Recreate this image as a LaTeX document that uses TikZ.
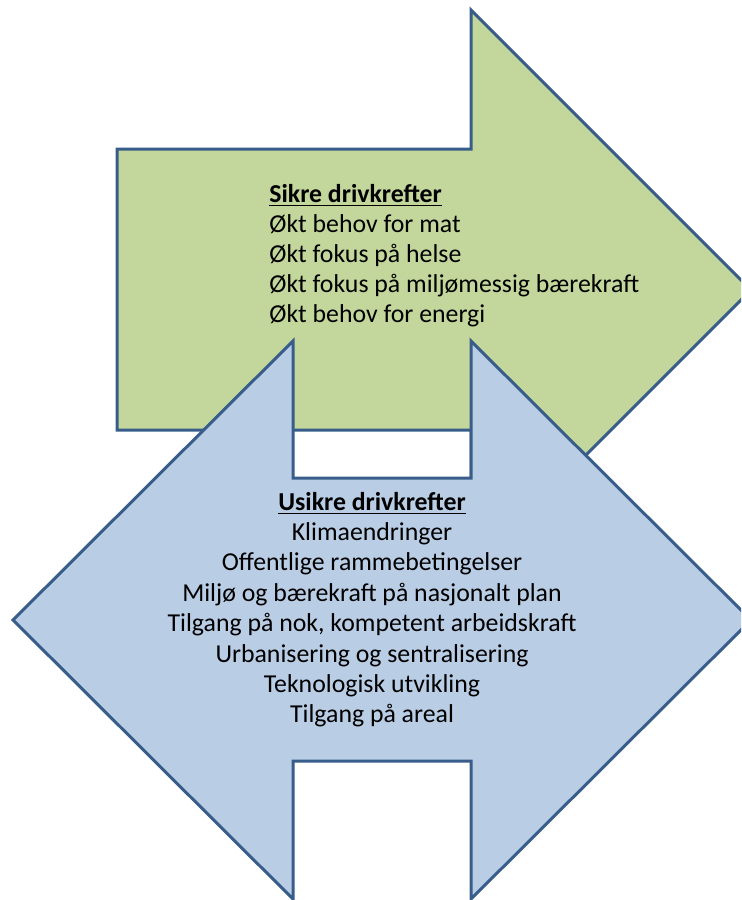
\documentclass[tikz,border=0pt]{standalone}
\usepackage{fontspec}
\setmainfont{Carlito}
\definecolor{sikregreen}{HTML}{C3D69B}
\definecolor{usikreblue}{HTML}{B9CDE5}
\definecolor{kantblue}{HTML}{385D8A}

\begin{document}
\begin{tikzpicture}[x=0.5pt,y=-0.5pt,
  pil/.style={draw=kantblue,line width=1.5pt,line join=miter},
  drivtekst/.style={font=\fontsize{12.9}{15}\selectfont,inner sep=0pt}]
  \useasboundingbox (0,0) rectangle (741,900);
  \clip (0,0) rectangle (741,900);

  % green arrow to the right
  \coordinate (G1) at (117,149);
  \coordinate (G2) at (471,149);
  \coordinate (G3) at (471,10);
  \coordinate (G4) at (751,290);
  \coordinate (G5) at (471,570);
  \coordinate (G6) at (471,430);
  \coordinate (G7) at (117,430);
  \filldraw[pil,fill=sikregreen] (G1) -- (G2) -- (G3) -- (G4) -- (G5) -- (G6) -- (G7) -- cycle;

  % blue double arrow, left and right
  \coordinate (B1) at (13,620);
  \coordinate (B2) at (293,341);
  \coordinate (B3) at (293,478);
  \coordinate (B4) at (471,478);
  \coordinate (B5) at (471,341);
  \coordinate (B6) at (751,620);
  \coordinate (B7) at (471,899);
  \coordinate (B8) at (471,761);
  \coordinate (B9) at (293,761);
  \coordinate (B10) at (293,899);
  \filldraw[pil,fill=usikreblue] (B1) -- (B2) -- (B3) -- (B4) -- (B5) -- (B6)
    -- (B7) -- (B8) -- (B9) -- (B10) -- cycle;

  % sikre drivkrefter
  \node[drivtekst,anchor=base west] (sikre) at (269,202) {\underline{\textbf{Sikre drivkrefter}}};
  \foreach \tekst [count=\i] in {Økt behov for mat, Økt fokus på helse,
      Økt fokus på miljømessig bærekraft, Økt behov for energi}
    \node[drivtekst,anchor=base west] (sikre\i) at (269,{202+30*\i}) {\tekst};

  % usikre drivkrefter
  \node[drivtekst,anchor=base] (usikre) at (372,510) {\underline{\textbf{Usikre drivkrefter}}};
  \foreach \tekst [count=\i] in {Klimaendringer, Offentlige rammebetingelser,
      Miljø og bærekraft på nasjonalt plan, {Tilgang på nok, kompetent arbeidskraft},
      Urbanisering og sentralisering, Teknologisk utvikling, Tilgang på areal}
    \node[drivtekst,anchor=base] (usikre\i) at (372,{510+30.4*\i}) {\tekst};
\end{tikzpicture}
\end{document}
